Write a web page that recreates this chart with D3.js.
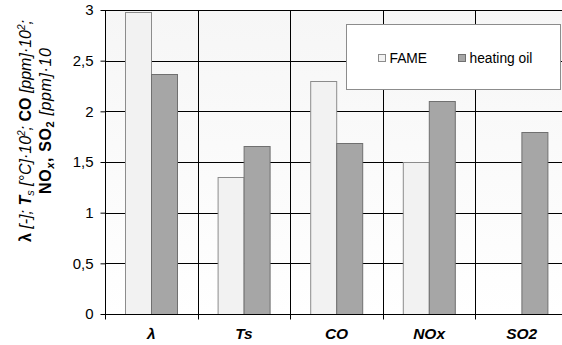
<!DOCTYPE html>
<html>
<head>
<meta charset="utf-8">
<script src="https://cdn.jsdelivr.net/npm/d3@7"></script>
<style>
  body { margin: 0; background: #fff; }
  text { font-family: "Liberation Sans", Arial, sans-serif; }
</style>
</head>
<body>
<script>
var width = 562,
    height = 345,
    margin = {top: 10, left: 105, bottom: 31, right: -6};

var categories = ['λ', 'Ts', 'CO', 'NOx', 'SO2'];
var series = ['FAME', 'heating oil'];
var fame = [2.98, 1.35, 2.30, 1.50, 0];
var heatingOil = [2.37, 1.66, 1.69, 2.10, 1.80];
var yTicks = [0, 0.5, 1, 1.5, 2, 2.5, 3];

var fills = {'FAME': '#f2f2f2', 'heating oil': '#a6a6a6'};
var strokes = {'FAME': '#8c8c8c', 'heating oil': '#707070'};

var rows = categories.map(function (c, i) {
    return {cat: c, values: [
        {key: 'FAME', value: fame[i]},
        {key: 'heating oil', value: heatingOil[i]}
    ]};
});

var svg = d3.select('body').append('svg')
    .attr('width', width)
    .attr('height', height);

var x0 = d3.scaleBand()
    .domain(categories)
    .range([margin.left, width - margin.right])
    .padding(0);

var x1 = d3.scaleBand()
    .domain(series)
    .range([0, x0.bandwidth()])
    .paddingInner(0)
    .paddingOuter(0.76);

var y = d3.scaleLinear()
    .domain([0, 3])
    .range([height - margin.bottom, margin.top]);

// plot background, slight grey fading to white
var grad = svg.append('defs').append('linearGradient')
    .attr('id', 'bg').attr('x1', 0).attr('y1', 0).attr('x2', 0).attr('y2', 1);
grad.append('stop').attr('offset', '0%').attr('stop-color', '#f6f6f6');
grad.append('stop').attr('offset', '100%').attr('stop-color', '#ffffff');

svg.append('rect')
    .attr('x', margin.left)
    .attr('y', y(3))
    .attr('width', x0.range()[1] - margin.left)
    .attr('height', y(0) - y(3))
    .attr('fill', 'url(#bg)');

// grid
svg.append('g').selectAll('line.h')
    .data(yTicks.filter(function (d) { return d > 0; }))
    .enter().append('line')
    .attr('x1', margin.left).attr('x2', x0.range()[1])
    .attr('y1', function (d) { return Math.round(y(d)) + 0.5; })
    .attr('y2', function (d) { return Math.round(y(d)) + 0.5; })
    .attr('stroke', '#000');

svg.append('g').selectAll('line.v')
    .data(categories.slice(1))
    .enter().append('line')
    .attr('x1', function (d) { return Math.round(x0(d)) + 0.5; })
    .attr('x2', function (d) { return Math.round(x0(d)) + 0.5; })
    .attr('y1', y(3)).attr('y2', y(0) + 4)
    .attr('stroke', '#000');

// bars
var groups = svg.append('g').selectAll('g')
    .data(rows)
    .enter().append('g')
    .attr('transform', function (d) { return 'translate(' + x0(d.cat) + ',0)'; });

groups.selectAll('rect')
    .data(function (d) { return d.values.filter(function (v) { return v.value > 0; }); })
    .enter().append('rect')
    .attr('x', function (d) { return Math.round(x1(d.key)) + 0.5; })
    .attr('y', function (d) { return Math.round(y(d.value)) + 0.5; })
    .attr('width', function (d) { return Math.round(x1.bandwidth()); })
    .attr('height', function (d) { return Math.round(y(0)) - Math.round(y(d.value)); })
    .attr('fill', function (d) { return fills[d.key]; })
    .attr('stroke', function (d) { return strokes[d.key]; });

// y axis
var yAxis = svg.append('g')
    .attr('transform', 'translate(' + (margin.left + 0.5) + ',0)')
    .call(d3.axisLeft(y).tickValues(yTicks).tickSize(5).tickPadding(7)
        .tickFormat(function (d) { return String(d).replace('.', ','); }));
yAxis.selectAll('text').attr('font-size', 15).attr('fill', '#000')
    .style('font-family', '"Liberation Sans", Arial, sans-serif');
yAxis.selectAll('line, path').attr('stroke', '#000');
yAxis.select('.domain').attr('d', 'M0,' + y(3) + 'V' + (Math.round(y(0)) + 0.5));

// x axis baseline with ticks at category boundaries
var xAxis = svg.append('g')
    .attr('transform', 'translate(0,' + (Math.round(y(0)) + 0.5) + ')');
xAxis.append('line')
    .attr('x1', margin.left).attr('x2', x0.range()[1])
    .attr('stroke', '#000');
xAxis.selectAll('line.tick')
    .data(categories)
    .enter().append('line')
    .attr('x1', function (d) { return Math.round(x0(d)) + 0.5; })
    .attr('x2', function (d) { return Math.round(x0(d)) + 0.5; })
    .attr('y1', 0).attr('y2', 5)
    .attr('stroke', '#000');
xAxis.selectAll('text')
    .data(categories)
    .enter().append('text')
    .attr('x', function (d) { return x0(d) + x0.bandwidth() / 2; })
    .attr('y', 24.5)
    .attr('text-anchor', 'middle')
    .attr('font-size', 15.5)
    .attr('font-weight', 'bold')
    .attr('font-style', 'italic')
    .text(function (d) { return d; });

// legend
var legend = svg.append('g');
legend.append('rect')
    .attr('x', 346.5).attr('y', 24.5)
    .attr('width', 214).attr('height', 65)
    .attr('fill', '#fff')
    .attr('stroke', '#8c8c8c');
var legendX = [378, 458];
series.forEach(function (s, i) {
    legend.append('rect')
        .attr('x', legendX[i] + 0.5).attr('y', 54.5)
        .attr('width', 7).attr('height', 7)
        .attr('fill', fills[s]).attr('stroke', strokes[s]);
    legend.append('text')
        .attr('x', legendX[i] + 11.5).attr('y', 62.5)
        .attr('font-size', 13.8)
        .text(s);
});

// y axis title, two rotated lines
function title(cx, cy, len, parts) {
    var t = svg.append('text')
        .attr('transform', 'translate(' + cx + ',' + cy + ') rotate(-90)')
        .attr('text-anchor', 'middle')
        .attr('font-size', 16)
        .attr('textLength', len)
        .attr('lengthAdjust', 'spacing');
    parts.forEach(function (p) {
        var ts = t.append('tspan').text(p.t);
        if (p.b) ts.attr('font-weight', 'bold');
        if (p.i) ts.attr('font-style', 'italic');
        if (p.sub) ts.attr('font-size', 11).attr('dy', 3);
        if (p.sup) ts.attr('font-size', 10).attr('dy', -6);
        if (p.back) ts.attr('dy', p.back);
    });
}

title(31, 131, 222, [
    {t: 'λ', b: 1},
    {t: ' [-]; ', i: 1},
    {t: 'T', b: 1, i: 1},
    {t: 's', i: 1, sub: 1},
    {t: ' [°C]·10', i: 1, back: -3},
    {t: '2', i: 1, sup: 1},
    {t: '; ', i: 1, back: 6},
    {t: 'CO', b: 1},
    {t: ' [ppm]·10', i: 1},
    {t: '2', i: 1, sup: 1},
    {t: ';', i: 1, back: 6}
]);

title(51, 121, 146, [
    {t: 'NO', b: 1},
    {t: 'x', b: 1, i: 1, sub: 1},
    {t: ', ', b: 1, back: -3},
    {t: 'SO', b: 1},
    {t: '2', b: 1, sub: 1},
    {t: ' [ppm]·10', i: 1, back: -3}
]);
</script>
</body>
</html>
